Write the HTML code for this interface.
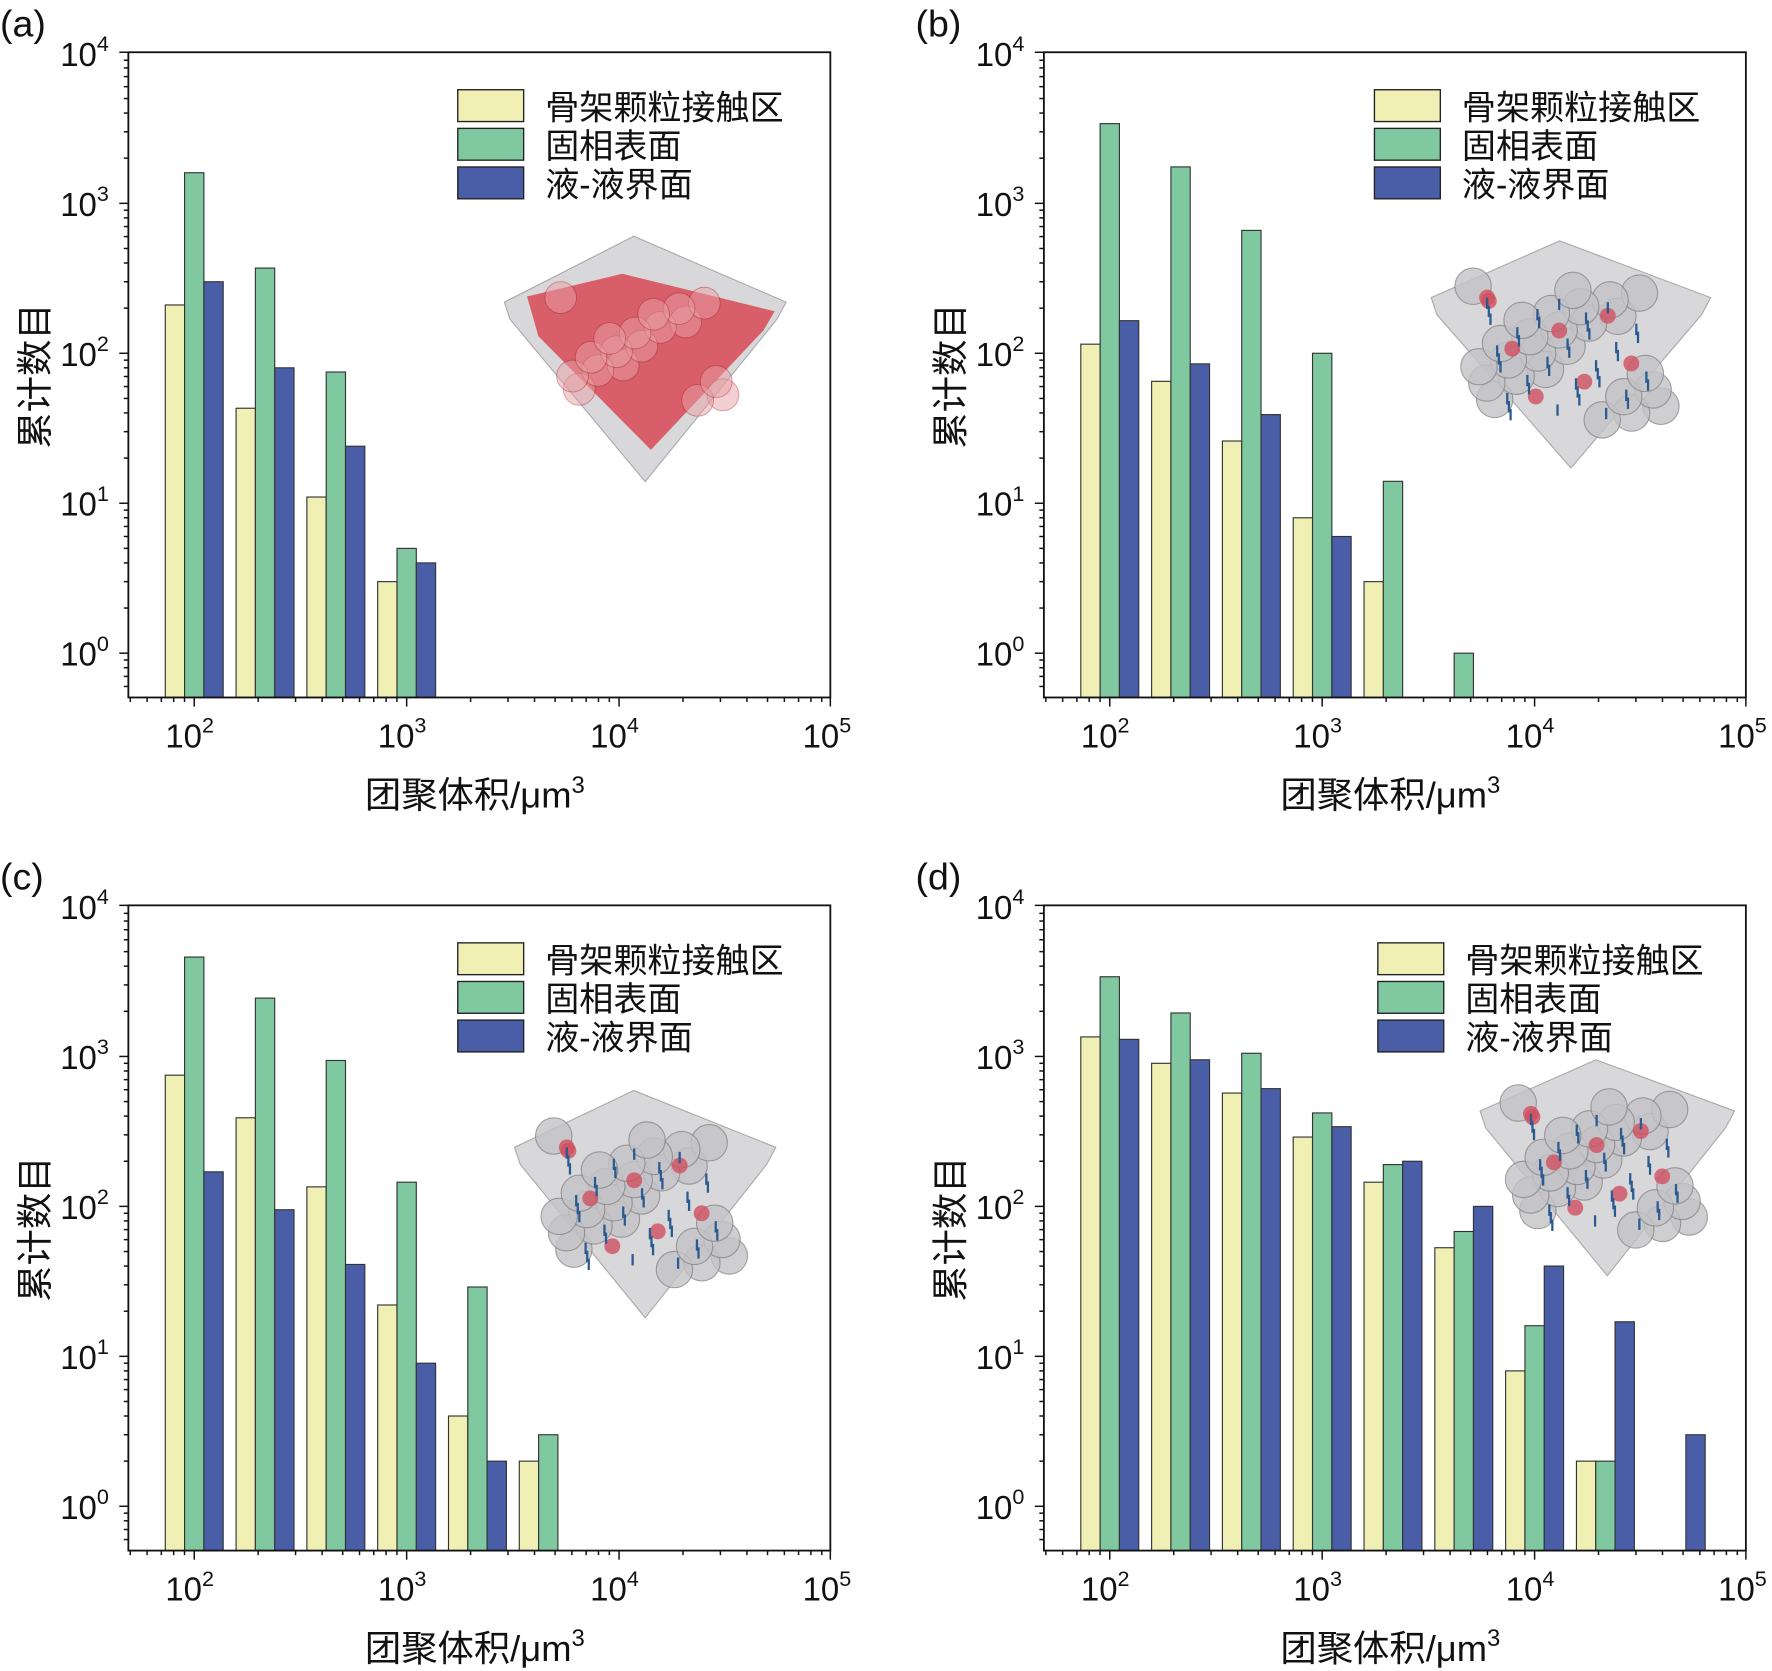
<!DOCTYPE html>
<html><head><meta charset="utf-8">
<style>
html,body{margin:0;padding:0;background:#fff;}
svg{display:block;}
text{font-family:"Liberation Sans","Noto Sans CJK SC",sans-serif;fill:#111;}
</style></head>
<body>
<svg id="s" width="1772" height="1671" viewBox="0 0 1560 1471" preserveAspectRatio="none" xmlns="http://www.w3.org/2000/svg"></svg>
<script>
const S=document.getElementById('s');
let h='';
const C=['#f0f0b4','#7fc8a0','#4a5ea8'];
const panels=[
 {lab:'(a)',ox:0,oy:0,leg:403,data:[[210,1600,300],[43,370,80],[11,75,24],[3,5,4]],cube:'red'},
 {lab:'(b)',ox:806,oy:0,leg:1210,data:[[115,3400,165],[65,1750,85],[26,660,39],[8,100,6],[3,14,0],[0,1,0]],cube:'b'},
 {lab:'(c)',ox:0,oy:751,leg:403,data:[[750,4600,170],[390,2450,95],[135,940,41],[22,145,9],[4,29,2],[2,3,0]],cube:'c'},
 {lab:'(d)',ox:806,oy:751,leg:1213,data:[[1350,3400,1300],[900,1950,950],[570,1050,610],[290,420,340],[145,190,200],[53,68,100],[8,16,40],[2,2,17],[0,0,3]],cube:'d'}
];
panels.forEach(p=>{
 const L=113+p.ox,R=731+p.ox,T=46+p.oy,B=614+p.oy;
 const x0=171+p.ox, dx=187, y0=575+p.oy, dy=132;
 const X=v=>x0+(Math.log10(v)-2)*dx, Y=v=>y0-Math.log10(v)*dy;
 p.data.forEach((g,k)=>{
  const c=x0+k*dx/3;
  g.forEach((v,i)=>{ if(!v) return;
   const xx=c-25.5+i*17, yy=Y(v);
   h+=`<rect x="${xx}" y="${yy}" width="17" height="${B-yy}" fill="${C[i]}" stroke="#333" stroke-width="1"/>`;
  });
 });
 h+=`<rect x="${L}" y="${T}" width="${R-L}" height="${B-T}" fill="none" stroke="#111" stroke-width="1.6"/>`;
 for(let d=1;d<=4;d++)for(let m=1;m<10;m++){const v=m*Math.pow(10,d);const x=X(v);if(x<L-0.5||x>R+0.5)continue;
  h+=`<line x1="${x}" y1="${B}" x2="${x}" y2="${B+(m==1?8:4)}" stroke="#111" stroke-width="1.3"/>`;}
 h+=`<line x1="${R}" y1="${B}" x2="${R}" y2="${B+8}" stroke="#111" stroke-width="1.3"/>`;
 for(let d=2;d<=5;d++){const x=X(Math.pow(10,d));h+=`<text x="${x-4}" y="${B+44}" font-size="29" text-anchor="middle">10<tspan dy="-13" font-size="19">${d}</tspan></text>`;}
 for(let d=-1;d<=3;d++)for(let m=1;m<10;m++){const v=m*Math.pow(10,d);const y=Y(v);if(y>B+0.5||y<T-0.5)continue;
  h+=`<line x1="${L}" y1="${y}" x2="${L-(m==1?8:4)}" y2="${y}" stroke="#111" stroke-width="1.3"/>`;}
 h+=`<line x1="${L}" y1="${T}" x2="${L-8}" y2="${T}" stroke="#111" stroke-width="1.3"/>`;
 for(let d=0;d<=4;d++){const y=Y(Math.pow(10,d));h+=`<text x="${L-60}" y="${y+11}" font-size="29">10<tspan dy="-13" font-size="19">${d}</tspan></text>`;}
 h+=`<text x="${(L+R)/2-4}" y="${B+97}" font-size="32" text-anchor="middle">团聚体积/μm<tspan dy="-13" font-size="21">3</tspan></text>`;
 h+=`<text transform="translate(${p.ox+42},${T+285}) rotate(-90)" font-size="32" text-anchor="middle">累计数目</text>`;
 h+=`<text x="${p.ox}" y="${p.oy+32}" font-size="33">${p.lab}</text>`;
 const names=['骨架颗粒接触区','固相表面','液-液界面'];
 names.forEach((n,i)=>{const y=T+33+i*34;
  h+=`<rect x="${p.leg}" y="${y}" width="58" height="28" fill="${C[i]}" stroke="#222" stroke-width="1.2"/>`;
  h+=`<text x="${p.leg+77}" y="${y+26}" font-size="30">${n}</text>`;});
 let cx,cy,w,hh;
 if(p.cube=='red'){cx=568;cy=316;w=124;hh=108;}
 else if(p.cube=='b'){cx=1383;cy=312;w=123;hh=100;}
 else if(p.cube=='c'){cx=568;cy=1060;w=115;hh=100;}
 else {cx=1415;cy=1028;w=112;hh=95;}
 const poly=`${cx-w},${cy-50} ${cx-10},${cy-hh} ${cx+w},${cy-50} ${cx+w-8},${cy-35} ${cx},${cy+hh} ${cx-w+5},${cy-35}`;
 h+=`<polygon points="${poly}" fill="#d8d8da" stroke="#aaa" stroke-width="1"/>`;
 if(p.cube=='red'){
  h+=`<polygon points="${cx-w+20},${cy-55} ${cx-20},${cy-75} ${cx+w-10},${cy-42} ${cx+w-20},${cy-25} ${cx+5},${cy+80} ${cx-w+30},${cy-20}" fill="#d84a55" opacity="0.85"/>`;
  for(let i=0;i<18;i++){const a=(i*37)%100/100,b=(i*61)%100/100;
   h+=`<circle cx="${cx-w*0.6+a*w*1.2}" cy="${cy-hh*0.5+b*hh*0.9}" r="14" fill="#e8a0a6" opacity="0.5" stroke="#a33" stroke-width="0.8"/>`;}
 } else {
  for(let i=0;i<26;i++){const a=(i*37)%100/100, b=(i*61)%100/100;
   const px=cx-w*0.7+a*w*1.4, py=cy-hh*0.6+b*hh*1.2;
   h+=`<circle cx="${px}" cy="${py}" r="16" fill="#c4c4c8" opacity="0.8" stroke="#888" stroke-width="1"/>`;}
  for(let i=0;i<8;i++){const a=(i*43)%100/100,b=(i*29)%100/100;
   h+=`<circle cx="${cx-w*0.6+a*w*1.2}" cy="${cy-hh*0.5+b*hh}" r="7" fill="#d05060" opacity="0.8"/>`;}
  for(let i=0;i<40;i++){const a=(i*53)%100/100,b=(i*71)%100/100;
   const px=cx-w*0.6+a*w*1.2, py=cy-hh*0.5+b*hh;
   h+=`<line x1="${px}" y1="${py}" x2="${px}" y2="${py+10}" stroke="#2a5a90" stroke-width="2"/>`;}
 }
});
S.innerHTML=h;
</script>
</body></html>
